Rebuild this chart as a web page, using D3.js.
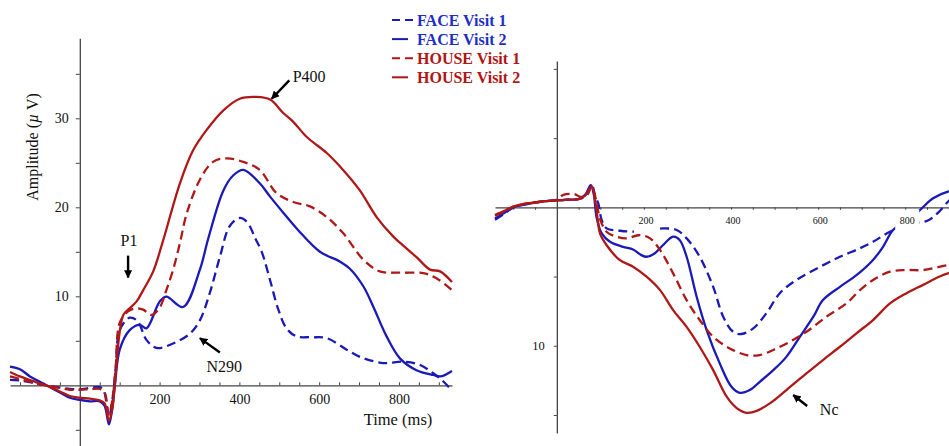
<!DOCTYPE html>
<html>
<head>
<meta charset="utf-8">
<script src="https://cdn.jsdelivr.net/npm/d3@7"></script>
<style>
  body { margin: 0; background: #fff; }
  svg { display: block; }
</style>
</head>
<body>
<div id="chart"></div>
<script>
// ---- data (time in ms, amplitude in microvolts) ----
var seriesNames = ["FACE Visit 1", "FACE Visit 2", "HOUSE Visit 1", "HOUSE Visit 2"];

// left panel
var faceV1Left = [[-175,0.6],[-150,0.55],[-125,0.35],[-100,0.1],[-84,0],[-50,-0.25],[-25,-0.4],[0,-0.45],[25,-0.3],[50,-0.2],[60,-0.6],[73,-3.5],[82,-1.5],[90,2],[100,6.2],[125,7.6],[145,7.2],[167,5.1],[192,4.2],[234,4.7],[276,5.8],[301,7.3],[326,10.4],[351,14.4],[376,17.9],[401,18.8],[420,18.3],[440,16.5],[456,15],[477,11.8],[497,8.6],[518,6.4],[543,5.5],[580,5.4],[619,5.3],[669,4.0],[702,3.2],[761,2.5],[811,2.65],[853,2.28],[886,1.35],[912,0.4],[933,-0.6]];
var faceV2Left = [[-175,2.1],[-150,1.8],[-125,1.0],[-100,0.4],[-84,0],[-50,-0.8],[-25,-1.4],[0,-1.65],[25,-1.8],[50,-1.8],[62,-2.3],[73,-4.4],[80,-3.0],[88,0],[100,4],[125,6.2],[150,6.8],[167,6.4],[200,9.4],[217,9.96],[259,8.8],[301,13],[322,16.5],[360,21.9],[385,23.6],[410,24.2],[451,22.7],[477,21.2],[510,19.4],[548,17.4],[602,15.0],[652,13.9],[677,13.1],[711,11.1],[736,8.8],[769,5.5],[803,3.0],[844,1.7],[886,1.16],[905,1.0],[933,1.6]];
var houseV1Left = [[-175,1.0],[-150,0.7],[-125,0.4],[-100,0.1],[-84,0],[-50,-0.3],[-25,-0.5],[0,-0.5],[25,-0.45],[50,-0.4],[62,-0.8],[73,-3.3],[82,-1.5],[90,2],[100,7],[121,8.3],[142,8.65],[159,8.5],[180,7.9],[201,8.8],[217,10.7],[234,13],[251,16],[268,19.3],[301,23.1],[334,25.1],[368,25.5],[410,25.1],[451,24.2],[493,21.6],[535,20.6],[577,20.1],[619,18.9],[660,17.1],[711,14.1],[752,12.8],[803,12.65],[861,12.6],[895,12.0],[933,10.7]];
var houseV2Left = [[-175,1.5],[-150,1.0],[-125,0.6],[-100,0.2],[-84,0],[-50,-0.7],[-25,-1.2],[0,-1.4],[25,-1.5],[50,-1.7],[62,-2.0],[73,-4.0],[82,-2.5],[88,0.3],[100,6.0],[109,7.9],[121,8.5],[142,9.4],[159,10.7],[184,12.8],[209,16.3],[251,22.7],[284,26.4],[318,28.7],[360,30.9],[401,32.2],[443,32.4],[477,32.1],[510,30.6],[535,29.6],[569,27.9],[619,26.1],[660,24.2],[702,21.9],[744,18.9],[786,16.7],[803,16.0],[844,14.4],[878,13.0],[903,12.8],[933,11.6]];

// right panel (positive plotted downward)
var faceV1Right = [[-142,0.9],[-120,0.45],[-100,0.0],[-75,-0.2],[-50,-0.35],[-25,-0.45],[0,-0.5],[25,-0.55],[50,-0.6],[65,-0.8],[80,-1.65],[88,-0.8],[95,-0.3],[103,0.92],[114,1.52],[145,1.69],[183,1.76],[215,1.65],[244,1.52],[275,1.64],[298,2.24],[328,3.57],[359,5.74],[382,7.9],[405,9.0],[424,9.15],[451,8.74],[481,7.66],[512,6.2],[550,5.25],[604,4.3],[650,3.57],[696,2.96],[726,2.49],[765,1.76],[812,1.2],[852,0.95],[875,0.4],[898,-0.4],[915,-0.9]];
var faceV2Right = [[-142,0.8],[-120,0.4],[-100,0.0],[-75,-0.2],[-50,-0.35],[-25,-0.45],[0,-0.5],[25,-0.55],[50,-0.6],[65,-0.9],[78,-1.6],[85,-0.9],[91,0.68],[103,1.88],[122,2.48],[152,2.85],[175,3.04],[194,3.45],[206,3.57],[225,3.32],[244,2.72],[267,2.12],[282,2.36],[298,3.57],[321,6.46],[344,8.87],[374,11.27],[401,12.96],[420,13.4],[443,13.2],[466,12.6],[497,11.76],[527,10.8],[558,9.35],[589,7.9],[611,6.7],[650,5.74],[688,4.9],[726,3.8],[749,2.85],[772,1.64],[800,1.0],[830,0.3],[864,-0.65],[898,-1.13],[915,-1.2]];
var houseV1Right = [[-142,0.6],[-120,0.3],[-100,-0.05],[-75,-0.25],[-50,-0.35],[-25,-0.45],[0,-0.55],[15,-0.9],[40,-0.95],[55,-0.75],[70,-0.9],[80,-1.5],[88,-0.8],[95,0.3],[100,0.92],[114,1.76],[137,2.12],[160,2.24],[191,2.0],[214,2.24],[237,3.08],[267,4.77],[298,6.7],[328,8.14],[359,9.35],[397,10.19],[436,10.67],[466,10.67],[497,10.3],[535,9.71],[573,8.99],[619,7.9],[665,6.94],[696,5.98],[726,5.25],[765,4.65],[803,4.53],[841,4.53],[898,4.17],[915,4.1]];
var houseV2Right = [[-142,0.55],[-120,0.25],[-100,-0.05],[-75,-0.25],[-50,-0.35],[-25,-0.45],[0,-0.5],[25,-0.55],[50,-0.6],[65,-0.85],[80,-1.5],[88,-0.5],[94,0.92],[99,1.88],[114,2.72],[144,3.8],[175,4.29],[206,5.01],[237,5.98],[267,7.42],[298,8.63],[328,10.07],[359,11.76],[390,13.68],[413,14.5],[436,14.84],[459,14.7],[489,14.16],[527,13.2],[573,12.0],[611,11.03],[650,10.07],[688,9.1],[726,8.14],[765,6.94],[803,6.2],[841,5.6],[879,5.0],[898,4.77],[915,4.7]];

var leftYTicks = [-5, 5, 10, 15, 20, 25, 30, 35];
var leftYLabels = [10, 20, 30];
var rightYTicks = [-10, -5, 5, 10, 15];
var rightYLabels = [10];
var timeLabels = [200, 400, 600, 800];

// annotation arrows: tip in data coords, tail offset in px
var leftNotes = [
    {text: "P400", tip: [481, 32.2], tail: [17.6, -18.3], tx: 21, ty: -17},
    {text: "P1", tip: [121, 12.1], tail: [0, -22], tx: -7.5, ty: -32},
    {text: "N290", tip: [301, 5.3], tail: [20, 14.4], tx: 6.5, ty: 33.5}
];
var rightNotes = [
    {text: "Nc", tip: [542.6, 13.56], tail: [14, 11], tx: 26.7, ty: 20}
];

var W = 949, H = 446;
var FONT = "'Liberation Serif', 'Times New Roman', serif";
var BLUE = "#1a1ab8", RED = "#b01818";
var styles = [
    {color: BLUE, dash: "9,5"},
    {color: BLUE, dash: null},
    {color: RED, dash: "9,5"},
    {color: RED, dash: null}
];
var textColors = ["#1e2ec8", "#1e2ec8", "#b01414", "#b01414"];

var svg = d3.select("#chart").append("svg")
    .attr("width", W)
    .attr("height", H)
    .style("font-family", FONT);

var defs = svg.append("defs");
defs.append("marker")
    .attr("id", "head")
    .attr("viewBox", "0 0 10 10")
    .attr("refX", 9).attr("refY", 5)
    .attr("markerWidth", 3.4).attr("markerHeight", 3.4)
    .attr("markerUnits", "strokeWidth")
    .attr("orient", "auto")
    .append("path")
    .attr("d", "M0,0 L10,5 L0,10 Z")
    .attr("fill", "#000");

// ---- scales ----
var xL = d3.scaleLinear().domain([-175, 933]).range([10, 452]);
var yL = d3.scaleLinear().domain([-7, 39]).range([447.6, 38.2]);
var xR = d3.scaleLinear().domain([-142, 900]).range([495, 948.8]);
var yR = d3.scaleLinear().domain([-10.57, 16.3]).range([61, 433]);

function styleAxis(g) {
    g.selectAll(".domain").attr("stroke", "#444").attr("stroke-width", 1.3);
    g.selectAll(".tick line").attr("stroke", "#444");
    g.selectAll("text").attr("font-family", FONT).attr("fill", "#111");
}

// ---- left panel ----
var left = svg.append("g");

left.append("g")
    .attr("transform", "translate(" + xL(0) + ",0)")
    .call(d3.axisLeft(yL).tickValues(leftYTicks)
        .tickFormat(function (d) { return leftYLabels.indexOf(d) >= 0 ? d : ""; })
        .tickSize(4).tickSizeOuter(0).tickPadding(7))
    .call(styleAxis)
    .selectAll("text").attr("font-size", 14);

left.append("g")
    .attr("transform", "translate(0," + yL(0) + ")")
    .call(d3.axisBottom(xL).tickValues(d3.range(-150, 933, 50).filter(function (d) { return d !== 0; }))
        .tickFormat(function (d) { return timeLabels.indexOf(d) >= 0 ? d : ""; })
        .tickSizeInner(-3).tickSizeOuter(0).tickPadding(9))
    .call(styleAxis)
    .selectAll("text").attr("font-size", 14);

var lineL = d3.line()
    .x(function (d) { return xL(d[0]); })
    .y(function (d) { return yL(d[1]); })
    .curve(d3.curveCatmullRom.alpha(0.5));

[faceV1Left, faceV2Left, houseV1Left, houseV2Left].forEach(function (data, i) {
    left.append("path")
        .datum(data)
        .attr("d", lineL)
        .attr("fill", "none")
        .attr("stroke", styles[i].color)
        .attr("stroke-width", 2.3)
        .attr("stroke-dasharray", styles[i].dash);
});

left.append("text")
    .attr("x", 398).attr("y", 425)
    .attr("text-anchor", "middle")
    .attr("font-size", 16.5)
    .attr("fill", "#111")
    .text("Time (ms)");

var ampLabel = left.append("text")
    .attr("transform", "translate(38,147) rotate(-90)")
    .attr("text-anchor", "middle")
    .attr("font-size", 16)
    .attr("fill", "#111");
ampLabel.append("tspan").text("Amplitude (");
ampLabel.append("tspan").attr("font-style", "italic").text("\u00b5");
ampLabel.append("tspan").text(" V)");

function drawNotes(g, notes, x, y) {
    notes.forEach(function (n) {
        var px = x(n.tip[0]), py = y(n.tip[1]);
        g.append("line")
            .attr("x1", px + n.tail[0]).attr("y1", py + n.tail[1])
            .attr("x2", px).attr("y2", py)
            .attr("stroke", "#000")
            .attr("stroke-width", 2.4)
            .attr("marker-end", "url(#head)");
        g.append("text")
            .attr("x", px + n.tx).attr("y", py + n.ty)
            .attr("font-size", 16)
            .attr("fill", "#111")
            .text(n.text);
    });
}
drawNotes(left, leftNotes, xL, yL);

// ---- right panel ----
var right = svg.append("g");

right.append("g")
    .attr("transform", "translate(" + xR(0) + ",0)")
    .call(d3.axisLeft(yR).tickValues(rightYTicks)
        .tickFormat(function (d) { return rightYLabels.indexOf(d) >= 0 ? d : ""; })
        .tickSize(3).tickSizeOuter(0).tickPadding(9))
    .call(styleAxis)
    .selectAll("text").attr("font-size", 12.5);

right.append("g")
    .attr("transform", "translate(0," + yR(0) + ")")
    .call(d3.axisBottom(xR).tickValues(d3.range(-100, 901, 50).filter(function (d) { return d !== 0; }))
        .tickFormat("")
        .tickSize(2.5).tickSizeOuter(0))
    .call(styleAxis);

var lineR = d3.line()
    .x(function (d) { return xR(d[0]); })
    .y(function (d) { return yR(d[1]); })
    .curve(d3.curveCatmullRom.alpha(0.5));

[faceV1Right, faceV2Right, houseV1Right, houseV2Right].forEach(function (data, i) {
    right.append("path")
        .datum(data)
        .attr("d", lineR)
        .attr("fill", "none")
        .attr("stroke", styles[i].color)
        .attr("stroke-width", 2.3)
        .attr("stroke-dasharray", styles[i].dash);
});

// time labels sit on white boxes above the traces
var rLabels = right.selectAll(".tlab").data(timeLabels).enter().append("g")
    .attr("transform", function (d) { return "translate(" + (xR(d) + 2) + "," + yR(0) + ")"; });
rLabels.append("rect")
    .attr("x", -12).attr("y", 2.5)
    .attr("width", 24).attr("height", 24)
    .attr("fill", "#fff");
rLabels.append("text")
    .attr("y", 16.5)
    .attr("text-anchor", "middle")
    .attr("font-size", 10)
    .attr("fill", "#111")
    .text(function (d) { return d; });

drawNotes(right, rightNotes, xR, yR);

// ---- legend ----
var legend = svg.append("g");
seriesNames.forEach(function (name, i) {
    var cy = 20 + i * 19.1;
    legend.append("line")
        .attr("x1", 392).attr("x2", styles[i].dash ? 415 : 408)
        .attr("y1", cy).attr("y2", cy)
        .attr("stroke", styles[i].color)
        .attr("stroke-width", 2)
        .attr("stroke-dasharray", styles[i].dash ? "8,5" : null);
    legend.append("text")
        .attr("x", 417).attr("y", cy + 5.5)
        .attr("font-size", 16)
        .attr("font-weight", "bold")
        .attr("fill", textColors[i])
        .text(name);
});
</script>
</body>
</html>
